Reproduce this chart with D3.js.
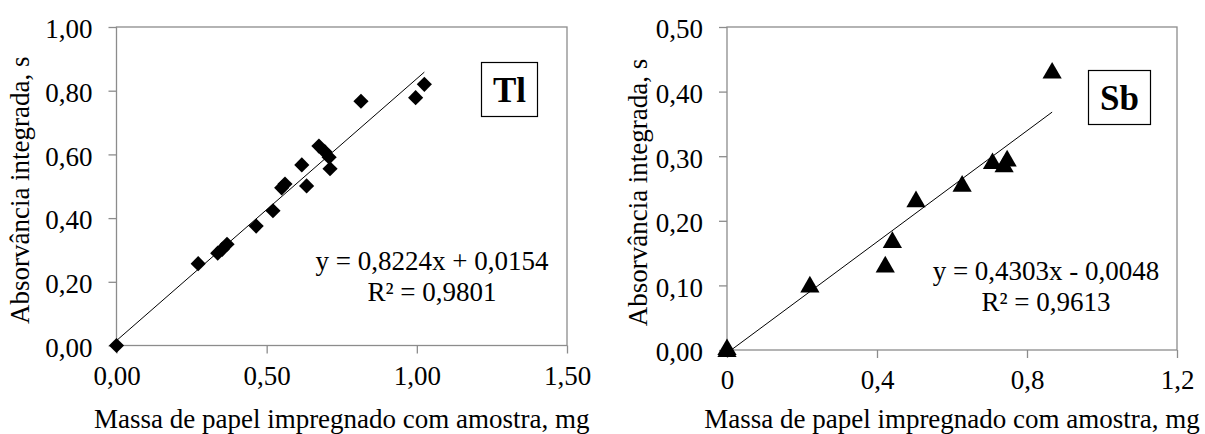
<!DOCTYPE html>
<html>
<head>
<meta charset="utf-8">
<script src="https://cdn.jsdelivr.net/npm/d3@7"></script>
<style>
  body { margin: 0; background: #fff; }
  svg text { font-family: "Liberation Serif", "Times New Roman", serif; fill: #000; }
</style>
</head>
<body>
<svg id="chart" width="1205" height="434"></svg>
<script>
// Tl panel
var tlMass = [0, 0.272, 0.337, 0.352, 0.368, 0.465, 0.521, 0.550, 0.561, 0.617, 0.633, 0.674, 0.694, 0.708, 0.711, 0.814, 0.996, 1.025];
var tlAbs  = [0, 0.257, 0.290, 0.302, 0.318, 0.375, 0.423, 0.495, 0.507, 0.567, 0.501, 0.626, 0.608, 0.591, 0.555, 0.767, 0.778, 0.820];
var tlXTicks = [0, 0.5, 1.0, 1.5];
var tlYTicks = [0, 0.2, 0.4, 0.6, 0.8, 1.0];
var tlFit = { slope: 0.8224, icpt: 0.0154, eq: "y = 0,8224x + 0,0154", r2: "R² = 0,9801" };

// Sb panel
var sbMass = [0, 0, 0.221, 0.422, 0.441, 0.504, 0.627, 0.708, 0.739, 0.747, 0.867];
var sbAbs  = [0, 0.003, 0.100, 0.131, 0.169, 0.232, 0.256, 0.291, 0.286, 0.295, 0.431];
var sbXTicks = [0, 0.4, 0.8, 1.2];
var sbYTicks = [0, 0.1, 0.2, 0.3, 0.4, 0.5];
var sbFit = { slope: 0.4303, icpt: -0.0048, eq: "y = 0,4303x - 0,0048", r2: "R² = 0,9613" };

var xTitle = "Massa de papel impregnado com amostra, mg";
var yTitle = "Absorvância integrada, s";

var svg = d3.select("#chart");
var frameColor = "#8c8c8c";
var comma = function(fmt) { return function(d) { return d3.format(fmt)(d).replace(".", ","); }; };

function drawPanel(p) {
  var x = d3.scaleLinear().domain(p.xDomain).range([p.left, p.right]);
  var y = d3.scaleLinear().domain(p.yDomain).range([p.bottom, p.top]);
  var g = svg.append("g");

  // plot frame
  g.append("rect")
    .attr("x", p.left).attr("y", p.top)
    .attr("width", p.right - p.left).attr("height", p.bottom - p.top)
    .attr("fill", "none").attr("stroke", frameColor).attr("stroke-width", 1.3);

  var xAxis = g.append("g").attr("transform", "translate(0," + p.bottom + ")")
    .call(d3.axisBottom(x).tickValues(p.xTicks).tickSize(8).tickPadding(12).tickFormat(p.xFmt));
  var yAxis = g.append("g").attr("transform", "translate(" + p.left + ",0)")
    .call(d3.axisLeft(y).tickValues(p.yTicks).tickSize(8).tickPadding(16).tickFormat(comma(".2f")));
  [xAxis, yAxis].forEach(function(a) {
    a.attr("font-family", null).attr("font-size", null);
    a.select(".domain").remove();
    a.selectAll("line").attr("stroke", frameColor).attr("stroke-width", 1.3);
    a.selectAll("text").style("font-family", "'Liberation Serif', serif").style("font-size", "27px").attr("fill", "#000");
  });
  xAxis.selectAll("text").attr("dy", "0.71em");
  yAxis.selectAll("text").attr("dy", "0.4em");

  // trendline
  var x0 = 0, x1 = d3.max(p.xs);
  g.append("line")
    .attr("x1", x(x0)).attr("y1", y(p.fit.slope * x0 + p.fit.icpt))
    .attr("x2", x(x1)).attr("y2", y(p.fit.slope * x1 + p.fit.icpt))
    .attr("stroke", "#000").attr("stroke-width", 1);

  // markers
  var pts = p.xs.map(function(v, i) { return [v, p.ys[i]]; });
  g.selectAll("path.pt").data(pts).enter().append("path")
    .attr("class", "pt")
    .attr("d", d3.symbol().type(p.symbol).size(p.symSize))
    .attr("transform", function(d) {
      var t = "translate(" + x(d[0]) + "," + y(d[1]) + ")";
      return p.symbol === d3.symbolSquare ? t + " rotate(45)" : t + " translate(0,1.5)";
    })
    .attr("fill", "#000");

  // equation
  g.append("text").attr("x", p.eqX).attr("y", p.eqY).attr("text-anchor", "middle")
    .style("font-size", "27px").text(p.fit.eq);
  g.append("text").attr("x", p.eqX).attr("y", p.eqY + 31).attr("text-anchor", "middle")
    .style("font-size", "27px").text(p.fit.r2);

  // element label box
  g.append("rect").attr("x", p.box[0]).attr("y", p.box[1]).attr("width", p.box[2]).attr("height", p.box[3])
    .attr("fill", "#fff").attr("stroke", "#000").attr("stroke-width", 1.2);
  g.append("text").attr("x", p.box[0] + p.box[2] / 2).attr("y", p.box[1] + p.box[3] / 2 + 12)
    .attr("text-anchor", "middle").style("font-size", "35px").style("font-weight", "bold").text(p.label);

  // axis titles
  g.append("text").attr("x", (p.left + p.right) / 2).attr("y", 428).attr("text-anchor", "middle")
    .style("font-size", "27px").text(xTitle);
  g.append("text").attr("transform", "translate(" + p.yTitleX + "," + ((p.top + p.bottom) / 2 + 4) + ") rotate(-90)")
    .attr("text-anchor", "middle").style("font-size", "27px").text(yTitle);
}

drawPanel({
  left: 116.5, right: 567, top: 27, bottom: 345.5,
  xDomain: [0, 1.5], yDomain: [0, 1.0],
  xTicks: tlXTicks, yTicks: tlYTicks, xFmt: comma(".2f"),
  xs: tlMass, ys: tlAbs, fit: tlFit,
  symbol: d3.symbolSquare, symSize: 115,
  eqX: 432, eqY: 270, box: [481.5, 62.5, 56, 54], label: "Tl", yTitleX: 29
});

drawPanel({
  left: 727, right: 1177, top: 27, bottom: 350,
  xDomain: [0, 1.2], yDomain: [0, 0.5],
  xTicks: sbXTicks, yTicks: sbYTicks, xFmt: function(d) { return d === 0 ? "0" : comma(".1f")(d); },
  xs: sbMass, ys: sbAbs, fit: sbFit,
  symbol: d3.symbolTriangle, symSize: 160,
  eqX: 1046, eqY: 280, box: [1088.5, 70.5, 62, 54], label: "Sb", yTitleX: 647
});
</script>
</body>
</html>
